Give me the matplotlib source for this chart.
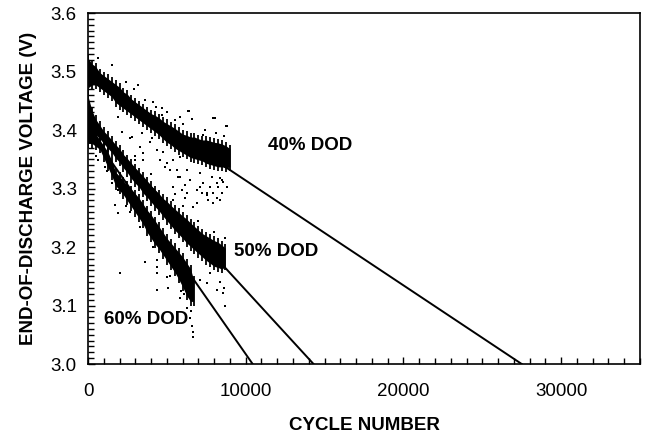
import matplotlib
matplotlib.use("Agg")
import matplotlib.pyplot as plt
from matplotlib.ticker import MultipleLocator, FormatStrFormatter

plt.rcParams['font.family'] = ['Liberation Sans', 'DejaVu Sans']

# ---------------- data ----------------
# dense bands of measured points: column x (cycles), lower / upper voltage of the band
b40_x = [0, 250, 500, 750, 1000, 1250, 1500, 1750, 2000, 2250, 2500, 2750, 3000, 3250,
         3500, 3750, 4000, 4250, 4500, 4750, 5000, 5250, 5500, 5750, 6000, 6250, 6500,
         6750, 7000, 7250, 7500, 7750, 8000, 8250, 8500, 8750, 9000]
b40_lo = [3.465, 3.47, 3.47, 3.465, 3.46, 3.455, 3.45, 3.44, 3.435, 3.43, 3.425, 3.42,
          3.415, 3.41, 3.405, 3.40, 3.395, 3.39, 3.385, 3.378, 3.372, 3.368, 3.362, 3.358,
          3.354, 3.35, 3.346, 3.344, 3.342, 3.34, 3.336, 3.334, 3.332, 3.33, 3.33, 3.328, 3.33]
b40_hi = [3.53, 3.52, 3.515, 3.505, 3.50, 3.495, 3.49, 3.485, 3.48, 3.472, 3.468, 3.46,
          3.455, 3.45, 3.445, 3.44, 3.435, 3.432, 3.428, 3.422, 3.418, 3.414, 3.41, 3.405,
          3.40, 3.398, 3.395, 3.395, 3.392, 3.39, 3.39, 3.388, 3.386, 3.385, 3.383, 3.38, 3.375]

b50_x = [0, 250, 500, 750, 1000, 1250, 1500, 1750, 2000, 2250, 2500, 2750, 3000, 3250,
         3500, 3750, 4000, 4250, 4500, 4750, 5000, 5250, 5500, 5750, 6000, 6250, 6500,
         6750, 7000, 7250, 7500, 7750, 8000, 8250, 8500, 8700]
b50_lo = [3.385, 3.39, 3.385, 3.378, 3.37, 3.362, 3.355, 3.345, 3.338, 3.328, 3.32, 3.31,
          3.302, 3.295, 3.285, 3.278, 3.27, 3.262, 3.255, 3.246, 3.238, 3.23, 3.222, 3.215,
          3.208, 3.20, 3.194, 3.188, 3.182, 3.176, 3.17, 3.165, 3.16, 3.158, 3.155, 3.16]
b50_hi = [3.465, 3.44, 3.425, 3.415, 3.405, 3.398, 3.39, 3.382, 3.375, 3.365, 3.358, 3.35,
          3.342, 3.335, 3.328, 3.32, 3.312, 3.305, 3.298, 3.29, 3.285, 3.278, 3.272, 3.266,
          3.26, 3.255, 3.248, 3.242, 3.236, 3.23, 3.226, 3.222, 3.218, 3.215, 3.21, 3.205]

b60_x = [0, 250, 500, 750, 1000, 1250, 1500, 1750, 2000, 2250, 2500, 2750, 3000, 3250,
         3500, 3750, 4000, 4250, 4500, 4750, 5000, 5250, 5500, 5750, 6000, 6250, 6500, 6700]
b60_lo = [3.37, 3.37, 3.365, 3.36, 3.345, 3.33, 3.315, 3.298, 3.29, 3.282, 3.272, 3.262,
          3.252, 3.242, 3.232, 3.218, 3.208, 3.198, 3.19, 3.18, 3.17, 3.16, 3.15, 3.138,
          3.125, 3.11, 3.10, 3.10]
b60_hi = [3.43, 3.41, 3.40, 3.39, 3.38, 3.37, 3.355, 3.335, 3.328, 3.32, 3.312, 3.305,
          3.298, 3.29, 3.28, 3.27, 3.262, 3.252, 3.242, 3.232, 3.222, 3.214, 3.206, 3.198,
          3.19, 3.18, 3.17, 3.15]

# scattered individual points
o40_x = [630, 1520, 3170, 3610, 4120, 4690, 5520, 6340, 6600, 7930, 8810, 1520, 8050, 8750,
         7290, 7610, 1900, 2160, 2790, 3420, 4060, 5830, 4570, 6280, 7100, 8500, 8560, 7740,
         6150, 5830, 6470, 3300, 3490, 4380, 5200, 5640, 7230, 8500, 7930, 8180, 8370, 6910,
         7550, 7100, 8900, 8950, 8850, 4690, 5830, 6400, 7990, 7290, 2660, 3930, 3490, 2980,
         4760, 5390, 5010, 5710, 7860, 8370, 7550, 8180, 8810, 6910, 5960, 6150, 6660, 5390,
         2400, 2900, 4300, 5000, 6000, 7400, 8100, 8650]
o40_v = [3.523, 3.511, 3.477, 3.451, 3.448, 3.438, 3.417, 3.432, 3.419, 3.42, 3.407, 3.465,
         3.42, 3.407, 3.366, 3.371, 3.422, 3.397, 3.388, 3.395, 3.386, 3.354, 3.349, 3.332,
         3.326, 3.315, 3.311, 3.303, 3.306, 3.32, 3.315, 3.371, 3.36, 3.366, 3.332, 3.332,
         3.292, 3.292, 3.275, 3.284, 3.28, 3.275, 3.292, 3.303, 3.35, 3.36, 3.34, 3.426,
         3.422, 3.432, 3.42, 3.391, 3.386, 3.38, 3.349, 3.349, 3.362, 3.349, 3.344, 3.32,
         3.32, 3.318, 3.289, 3.309, 3.303, 3.297, 3.297, 3.284, 3.268, 3.303,
         3.482, 3.47, 3.44, 3.43, 3.41, 3.40, 3.395, 3.39]

o50_x = [7930, 8240, 7610, 7290, 6280, 5390, 6790, 6910, 7740, 7100, 7550, 8180, 8560, 8690,
         5830, 4880, 630, 1080, 5010, 8600, 8400, 3000, 4000, 6000, 7000, 8000, 8700, 5500]
o50_v = [3.292, 3.303, 3.28, 3.309, 3.292, 3.28, 3.224, 3.195, 3.156, 3.144, 3.138, 3.126,
         3.121, 3.099, 3.156, 3.337, 3.349, 3.337, 3.149, 3.13, 3.14, 3.355, 3.325, 3.27,
         3.245, 3.225, 3.215, 3.29]

o60_x = [2030, 1710, 1900, 2660, 3610, 4380, 4380, 4380, 5070, 5830, 6470, 6660, 6660, 6600,
         4380, 1520, 1900, 6500, 6300, 500, 1200, 2400, 3300, 4100, 5200, 5900, 6100]
o60_v = [3.156, 3.272, 3.258, 3.26, 3.174, 3.178, 3.166, 3.156, 3.13, 3.113, 3.079, 3.046,
         3.055, 3.065, 3.126, 3.309, 3.297, 3.09, 3.095, 3.355, 3.33, 3.27, 3.235, 3.20,
         3.15, 3.125, 3.12]

# linear extrapolation lines to the 3.0 V end-of-discharge limit
fit40_x = [0, 27500]
fit40_v = [3.493, 3.0]
fit50_x = [0, 14300]
fit50_v = [3.420, 3.0]
fit60_x = [0, 10440]
fit60_v = [3.403, 3.0]

labels = ["40% DOD", "50% DOD", "60% DOD"]
label_x = [14100, 11900, 3700]
label_v = [3.374, 3.193, 3.076]

# ---------------- drawing ----------------
fig = plt.figure(figsize=(6.48, 4.40), dpi=100)
ax = fig.add_axes([88 / 648, 1 - 364 / 440, (640 - 88) / 648, (364 - 13) / 440])

core_inset = 0.007  # solid core drawn slightly inside the band, streaky edges outside
for bx, lo, hi in [(b40_x, b40_lo, b40_hi), (b50_x, b50_lo, b50_hi), (b60_x, b60_lo, b60_hi)]:
    ax.fill_between(bx, [v + core_inset for v in lo], [v - core_inset for v in hi],
                    color='black', linewidth=0)
    ax.vlines(bx, lo, hi, colors='black', linewidth=1.3)

for ox, ov in [(o40_x, o40_v), (o50_x, o50_v), (o60_x, o60_v)]:
    ax.scatter(ox, ov, s=4.5, marker='s', color='black', linewidths=0)

for fx, fv in [(fit40_x, fit40_v), (fit50_x, fit50_v), (fit60_x, fit60_v)]:
    ax.plot(fx, fv, color='black', linewidth=1.4)

for t, lx, lv in zip(labels, label_x, label_v):
    ax.text(lx, lv, t, ha='center', va='center', fontsize=13.5, fontweight='bold')

ax.set_xlim(0, 35000)
ax.set_ylim(3.0, 3.6)
ax.xaxis.set_major_locator(MultipleLocator(10000))
ax.xaxis.set_minor_locator(MultipleLocator(1000))
ax.yaxis.set_major_locator(MultipleLocator(0.1))
ax.yaxis.set_minor_locator(MultipleLocator(0.01))
ax.yaxis.set_major_formatter(FormatStrFormatter('%.1f'))
ax.tick_params(which='both', direction='in', top=False, right=False, labelsize=13.5)
ax.tick_params(which='major', length=5, width=1)
ax.tick_params(which='minor', length=4, width=1)
ax.tick_params(axis='x', which='major', pad=14)
ax.tick_params(axis='y', which='major', pad=8)
for sp in ax.spines.values():
    sp.set_linewidth(1.2)

ax.set_xlabel("CYCLE NUMBER", fontsize=13.5, fontweight='bold', labelpad=12)
ax.set_ylabel("END-OF-DISCHARGE VOLTAGE (V)", fontsize=13.5, fontweight='bold', labelpad=10)

fig.savefig("out.png", dpi=100)
